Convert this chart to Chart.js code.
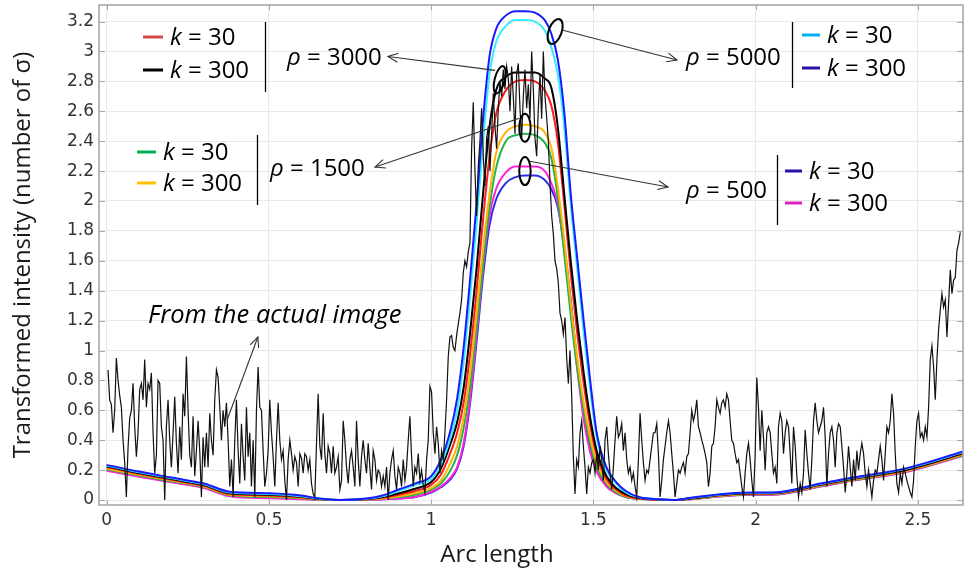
<!DOCTYPE html>
<html>
<head>
<meta charset="utf-8">
<script src="https://cdn.jsdelivr.net/npm/chart.js@4.4.1/dist/chart.umd.min.js"></script>
<style>
html,body{margin:0;padding:0;background:#fff;}
#wrap{position:relative;width:965px;height:573px;}
</style>
</head>
<body>
<div id="wrap"><canvas id="c" width="965" height="573"></canvas></div>
<script>
// Arc-length positions shared by the model curves
const arcGrid = [0, 0.1, 0.2, 0.3, 0.38, 0.5, 0.6, 0.65, 0.72, 0.8,
  0.85, 0.9, 0.95, 1.0, 1.03, 1.06, 1.08, 1.1, 1.12, 1.14,
  1.16, 1.18, 1.2, 1.23, 1.26, 1.29, 1.32, 1.35, 1.37, 1.39,
  1.41, 1.43, 1.45, 1.47, 1.49, 1.51, 1.54, 1.57, 1.6, 1.64,
  1.7, 1.75, 1.8, 1.9, 2.0, 2.05, 2.2, 2.3, 2.46, 2.64];

// Model curves, one list per (rho, k) pair
const rho5000k300 = [0.235, 0.19, 0.15, 0.11, 0.055, 0.045, 0.03, 0.012, 0.0, 0.01,
  0.03, 0.07, 0.11, 0.16, 0.27, 0.47, 0.68, 1.02, 1.48, 1.98,
  2.55, 2.97, 3.15, 3.24, 3.27, 3.27, 3.26, 3.21, 3.12, 2.95,
  2.6, 2.05, 1.62, 1.2, 0.8, 0.45, 0.22, 0.12, 0.06, 0.02,
  0.005, 0.0, 0.015, 0.04, 0.05, 0.05, 0.11, 0.15, 0.21, 0.325];
const rho5000k30 = [0.23, 0.185, 0.145, 0.105, 0.05, 0.04, 0.025, 0.01, 0.0, 0.008,
  0.025, 0.06, 0.1, 0.14, 0.24, 0.42, 0.6, 0.92, 1.36, 1.85,
  2.4, 2.85, 3.06, 3.17, 3.21, 3.21, 3.2, 3.14, 3.03, 2.85,
  2.5, 1.98, 1.55, 1.12, 0.74, 0.42, 0.2, 0.11, 0.05, 0.018,
  0.005, 0.0, 0.013, 0.038, 0.048, 0.048, 0.107, 0.147, 0.207, 0.32];
const rho3000k300 = [0.225, 0.18, 0.14, 0.1, 0.045, 0.035, 0.022, 0.008, 0.0, 0.006,
  0.02, 0.045, 0.075, 0.12, 0.21, 0.38, 0.52, 0.75, 1.12, 1.55,
  2.05, 2.5, 2.74, 2.83, 2.86, 2.86, 2.86, 2.82, 2.76, 2.5,
  2.05, 1.6, 1.2, 0.85, 0.55, 0.33, 0.16, 0.08, 0.04, 0.015,
  0.004, 0.0, 0.01, 0.035, 0.045, 0.045, 0.103, 0.143, 0.2, 0.313];
const rho3000k30 = [0.22, 0.175, 0.135, 0.095, 0.04, 0.03, 0.018, 0.006, 0.0, 0.005,
  0.015, 0.035, 0.06, 0.1, 0.17, 0.32, 0.45, 0.65, 0.98, 1.4,
  1.88, 2.3, 2.58, 2.74, 2.8, 2.81, 2.8, 2.74, 2.64, 2.4,
  1.98, 1.52, 1.12, 0.78, 0.5, 0.3, 0.14, 0.07, 0.03, 0.01,
  0.003, 0.0, 0.009, 0.033, 0.043, 0.043, 0.1, 0.14, 0.197, 0.31];
const rho1500k300 = [0.21, 0.168, 0.13, 0.09, 0.035, 0.025, 0.014, 0.005, 0.0, 0.004,
  0.01, 0.025, 0.045, 0.08, 0.13, 0.25, 0.36, 0.55, 0.85, 1.25,
  1.68, 2.05, 2.32, 2.46, 2.5, 2.51, 2.5, 2.46, 2.36, 2.1,
  1.74, 1.32, 0.95, 0.65, 0.42, 0.25, 0.12, 0.06, 0.025, 0.01,
  0.003, 0.0, 0.007, 0.03, 0.04, 0.04, 0.097, 0.136, 0.193, 0.305];
const rho1500k30 = [0.205, 0.163, 0.125, 0.087, 0.032, 0.02, 0.012, 0.004, 0.0, 0.003,
  0.01, 0.02, 0.035, 0.07, 0.11, 0.2, 0.3, 0.48, 0.76, 1.15,
  1.58, 1.96, 2.22, 2.4, 2.44, 2.45, 2.44, 2.39, 2.29, 2.03,
  1.65, 1.24, 0.88, 0.6, 0.38, 0.22, 0.11, 0.05, 0.02, 0.008,
  0.002, 0.0, 0.006, 0.028, 0.038, 0.038, 0.094, 0.133, 0.19, 0.3];
const rho500k300 = [0.195, 0.155, 0.118, 0.08, 0.025, 0.012, 0.005, 0.003, 0.0, 0.0,
  0.005, 0.01, 0.02, 0.055, 0.09, 0.15, 0.22, 0.38, 0.68, 1.1,
  1.55, 1.9, 2.08, 2.19, 2.23, 2.23, 2.23, 2.2, 2.12, 1.98,
  1.68, 1.3, 0.88, 0.54, 0.32, 0.19, 0.09, 0.045, 0.02, 0.008,
  0.003, 0.0, 0.005, 0.025, 0.035, 0.035, 0.09, 0.13, 0.185, 0.295];
const rho500k30 = [0.2, 0.16, 0.122, 0.084, 0.03, 0.016, 0.008, 0.003, 0.0, 0.0,
  0.005, 0.01, 0.02, 0.05, 0.085, 0.14, 0.21, 0.36, 0.65, 1.06,
  1.5, 1.84, 2.01, 2.12, 2.16, 2.17, 2.17, 2.14, 2.08, 1.96,
  1.7, 1.34, 0.92, 0.58, 0.35, 0.2, 0.1, 0.05, 0.02, 0.008,
  0.003, 0.0, 0.006, 0.027, 0.037, 0.037, 0.092, 0.132, 0.188, 0.3];

// Intensity profile sampled along the arc of the actual image
const imageStart = 0.0041;
const imageStep = 0.00514;
const imageIntensity = [
  0.87, 0.67, 0.64, 0.45, 0.60, 0.95, 0.80, 0.70, 0.62, 0.40,
  0.25, 0.02, 0.35, 0.55, 0.60, 0.78, 0.49, 0.29, 0.45, 0.74,
  0.78, 0.67, 0.94, 0.62, 0.78, 0.74, 0.85, 0.45, 0.18, 0.30,
  0.80, 0.78, 0.49, 0.40, 0.00, 0.49, 0.67, 0.40, 0.22, 0.45,
  0.69, 0.38, 0.18, 0.49, 0.27, 0.71, 0.56, 0.96, 0.60, 0.30,
  0.22, 0.56, 0.16, 0.33, 0.53, 0.33, 0.02, 0.42, 0.22, 0.45,
  0.22, 0.58, 0.40, 0.30, 0.67, 0.87, 0.82, 0.62, 0.40, 0.60,
  0.49, 0.65, 0.40, 0.09, 0.27, 0.02, 0.40, 0.67, 0.33, 0.11,
  0.51, 0.29, 0.13, 0.62, 0.29, 0.45, 0.09, 0.40, 0.02, 0.60,
  0.89, 0.62, 0.60, 0.33, 0.09, 0.18, 0.33, 0.67, 0.45, 0.29,
  0.09, 0.40, 0.65, 0.40, 0.27, 0.33, 0.13, 0.00, 0.27, 0.40,
  0.31, 0.20, 0.29, 0.25, 0.09, 0.31, 0.28, 0.18, 0.31, 0.29,
  0.20, 0.27, 0.11, 0.04, 0.02, 0.38, 0.71, 0.36, 0.27, 0.58,
  0.31, 0.18, 0.36, 0.31, 0.18, 0.36, 0.18, 0.22, 0.29, 0.07,
  0.13, 0.53, 0.40, 0.22, 0.11, 0.27, 0.33, 0.22, 0.09, 0.53,
  0.27, 0.09, 0.29, 0.40, 0.27, 0.18, 0.38, 0.22, 0.07, 0.33,
  0.27, 0.13, 0.20, 0.18, 0.09, 0.16, 0.09, 0.22, 0.00, 0.18,
  0.27, 0.33, 0.16, 0.07, 0.22, 0.18, 0.09, 0.27, 0.13, 0.22,
  0.40, 0.56, 0.29, 0.09, 0.22, 0.18, 0.31, 0.13, 0.20, 0.10,
  0.05, 0.27, 0.40, 0.76, 0.72, 0.45, 0.31, 0.49, 0.38, 0.18,
  0.33, 0.27, 0.45, 0.67, 0.96, 1.09, 1.10, 1.02, 1.00, 1.10,
  1.18, 1.25, 1.34, 1.52, 1.60, 1.56, 1.66, 1.72, 2.35, 2.66,
  2.20, 1.90, 2.23, 2.40, 2.62, 2.30, 2.10, 2.42, 2.50, 2.20,
  2.45, 2.72, 2.50, 2.35, 2.62, 2.80, 2.70, 2.88, 2.75, 2.90,
  2.82, 2.60, 2.90, 2.70, 2.45, 2.85, 2.92, 2.62, 2.42, 2.70,
  2.88, 2.62, 2.78, 2.55, 3.00, 2.75, 2.42, 2.30, 2.62, 2.85,
  2.55, 3.00, 2.70, 2.56, 2.40, 2.12, 1.90, 1.78, 1.60, 1.55,
  1.45, 1.25, 1.20, 1.11, 1.22, 0.95, 0.78, 1.00, 0.70, 0.29,
  0.04, 0.27, 0.22, 0.45, 0.53, 0.36, 0.22, 0.04, 0.22, 0.18,
  0.25, 0.27, 0.18, 0.31, 0.20, 0.36, 0.27, 0.13, 0.40, 0.49,
  0.31, 0.18, 0.07, 0.22, 0.40, 0.56, 0.42, 0.45, 0.51, 0.33,
  0.45, 0.27, 0.18, 0.22, 0.13, 0.18, 0.09, 0.02, 0.27, 0.58,
  0.40, 0.25, 0.13, 0.20, 0.18, 0.27, 0.36, 0.45, 0.45, 0.51,
  0.31, 0.02, 0.13, 0.27, 0.36, 0.45, 0.53, 0.45, 0.31, 0.18,
  0.02, 0.11, 0.20, 0.18, 0.22, 0.25, 0.18, 0.29, 0.31, 0.45,
  0.60, 0.53, 0.58, 0.67, 0.49, 0.45, 0.40, 0.36, 0.31, 0.25,
  0.09, 0.18, 0.36, 0.38, 0.49, 0.67, 0.62, 0.58, 0.65, 0.67,
  0.62, 0.71, 0.67, 0.53, 0.40, 0.38, 0.31, 0.25, 0.27, 0.18,
  0.09, 0.02, 0.18, 0.31, 0.38, 0.27, 0.13, 0.02, 0.30, 0.82,
  0.62, 0.33, 0.60, 0.42, 0.20, 0.45, 0.49, 0.45, 0.31, 0.18,
  0.22, 0.11, 0.49, 0.58, 0.53, 0.31, 0.45, 0.53, 0.49, 0.31,
  0.11, 0.49, 0.36, 0.16, 0.02, 0.11, 0.05, 0.18, 0.47, 0.31,
  0.18, 0.07, 0.27, 0.53, 0.65, 0.53, 0.45, 0.49, 0.53, 0.62,
  0.42, 0.09, 0.31, 0.45, 0.49, 0.40, 0.22, 0.45, 0.51, 0.49,
  0.36, 0.22, 0.05, 0.18, 0.36, 0.22, 0.09, 0.27, 0.13, 0.33,
  0.20, 0.31, 0.38, 0.31, 0.18, 0.09, 0.20, 0.11, 0.02, 0.13,
  0.20, 0.18, 0.27, 0.36, 0.27, 0.13, 0.31, 0.49, 0.45, 0.53,
  0.71, 0.58, 0.31, 0.11, 0.05, 0.18, 0.11, 0.22, 0.18, 0.13,
  0.09, 0.05, 0.02, 0.13, 0.36, 0.53, 0.58, 0.42, 0.45, 0.40,
  0.49, 0.42, 0.62, 0.94, 1.03, 0.89, 0.67, 0.94, 1.14, 1.27,
  1.38, 1.29, 1.34, 1.09, 1.32, 1.54, 1.38, 1.47, 1.49, 1.67,
  1.72, 1.79
];

// Axis ticks
const xTicks = [0, 0.5, 1, 1.5, 2, 2.5];
const xTickLabels = ['0', '0.5', '1', '1.5', '2', '2.5'];
const yTicks = [0, 0.2, 0.4, 0.6, 0.8, 1, 1.2, 1.4, 1.6, 1.8, 2, 2.2, 2.4, 2.6, 2.8, 3, 3.2];
const yTickLabels = ['0', '0.2', '0.4', '0.6', '0.8', '1', '1.2', '1.4', '1.6', '1.8',
  '2', '2.2', '2.4', '2.6', '2.8', '3', '3.2'];

const TEXT_FONT = "'Open Sans', 'DejaVu Sans', sans-serif";

function curve(label, ys, color) {
  return {
    label,
    data: arcGrid.map((x, i) => ({ x, y: ys[i] })),
    borderColor: color,
    borderWidth: 2,
    pointRadius: 0,
    fill: false,
    cubicInterpolationMode: 'monotone'
  };
}

const datasets = [
  {
    label: 'From the actual image',
    data: imageIntensity.map((y, i) => ({ x: imageStart + i * imageStep, y })),
    borderColor: '#111111',
    borderWidth: 1.2,
    pointRadius: 0,
    fill: false,
    tension: 0
  },
  curve('ρ = 5000, k = 300', rho5000k300, '#1a1aff'),
  curve('ρ = 5000, k = 30', rho5000k30, '#38ecff'),
  curve('ρ = 3000, k = 300', rho3000k300, '#000000'),
  curve('ρ = 3000, k = 30', rho3000k30, '#ff1a1a'),
  curve('ρ = 1500, k = 300', rho1500k300, '#ffb400'),
  curve('ρ = 1500, k = 30', rho1500k30, '#22b24a'),
  curve('ρ = 500, k = 300', rho500k300, '#ff22dd'),
  curve('ρ = 500, k = 30', rho500k30, '#2b2bea')
];

// Draws a run of text pieces, each either italic or upright
function richText(ctx, parts, x, baseline, size = 24) {
  let cx = x;
  for (const [txt, italic] of parts) {
    ctx.font = (italic ? 'italic ' : '') + size + 'px ' + TEXT_FONT;
    ctx.fillText(txt, cx, baseline);
    cx += ctx.measureText(txt).width;
  }
}

function arrow(ctx, x1, y1, x2, y2) {
  ctx.beginPath();
  ctx.moveTo(x1, y1);
  ctx.lineTo(x2, y2);
  ctx.stroke();
  const ang = Math.atan2(y2 - y1, x2 - x1);
  const L = 11, w = 0.42;
  ctx.beginPath();
  ctx.moveTo(x2 - L * Math.cos(ang - w), y2 - L * Math.sin(ang - w));
  ctx.lineTo(x2, y2);
  ctx.lineTo(x2 - L * Math.cos(ang + w), y2 - L * Math.sin(ang + w));
  ctx.stroke();
}

function legendRow(ctx, color, x1, x2, y, value) {
  ctx.strokeStyle = color;
  ctx.lineWidth = 3;
  ctx.beginPath();
  ctx.moveTo(x1, y);
  ctx.lineTo(x2, y);
  ctx.stroke();
  richText(ctx, [['k', true], [' = ' + value, false]], x2 + 7, y + 8);
}

function bar(ctx, x, y1, y2) {
  ctx.strokeStyle = '#000';
  ctx.lineWidth = 1.3;
  ctx.beginPath();
  ctx.moveTo(x, y1);
  ctx.lineTo(x, y2);
  ctx.stroke();
}

// Keep the plot box exactly where the axes put it
function noLabelPadding(s) {
  s.paddingTop = 0;
  s.paddingBottom = 0;
  s.paddingLeft = 0;
  s.paddingRight = 0;
}

const annotations = {
  id: 'annotations',
  beforeDatasetsDraw(chart) {
    const { ctx, chartArea: a, scales: { x, y } } = chart;
    ctx.save();
    ctx.strokeStyle = '#a8a8a8';
    ctx.lineWidth = 1;
    for (const v of xTicks) {
      const X = Math.round(x.getPixelForValue(v)) + 0.5;
      ctx.beginPath();
      ctx.moveTo(X, a.bottom); ctx.lineTo(X, a.bottom - 5);
      ctx.moveTo(X, a.top); ctx.lineTo(X, a.top + 5);
      ctx.stroke();
    }
    for (const v of yTicks) {
      const Y = Math.round(y.getPixelForValue(v)) + 0.5;
      ctx.beginPath();
      ctx.moveTo(a.left, Y); ctx.lineTo(a.left + 6, Y);
      ctx.moveTo(a.right, Y); ctx.lineTo(a.right - 6, Y);
      ctx.stroke();
    }
    ctx.restore();
  },
  afterDatasetsDraw(chart) {
    const { ctx, chartArea: a, scales: { x, y } } = chart;
    const P = (vx, vy) => [x.getPixelForValue(vx), y.getPixelForValue(vy)];
    ctx.save();

    // plot frame
    ctx.strokeStyle = '#a8a8a8';
    ctx.lineWidth = 1.6;
    ctx.strokeRect(a.left, a.top, a.right - a.left, a.bottom - a.top);

    // x-axis title
    ctx.fillStyle = '#1a1a1a';
    ctx.textBaseline = 'alphabetic';
    ctx.textAlign = 'center';
    ctx.font = '24px ' + TEXT_FONT;
    ctx.fillText('Arc length', 497, 562);

    ctx.fillStyle = '#000';
    ctx.textAlign = 'left';

    // rho = 3000 group
    legendRow(ctx, '#d04848', 143, 163, 37, '30');
    legendRow(ctx, '#000000', 143, 163, 70, '300');
    bar(ctx, 265.5, 22, 92);
    richText(ctx, [['ρ', true], [' = 3000', false]], 287, 65);

    // rho = 1500 group
    legendRow(ctx, '#00b050', 137, 156, 152, '30');
    legendRow(ctx, '#ffc000', 137, 156, 183, '300');
    bar(ctx, 257.5, 135, 205);
    richText(ctx, [['ρ', true], [' = 1500', false]], 270, 176);

    // rho = 5000 group
    richText(ctx, [['ρ', true], [' = 5000', false]], 686, 65);
    bar(ctx, 792.5, 22, 88);
    legendRow(ctx, '#00b0f0', 802, 820, 35, '30');
    legendRow(ctx, '#2a10a8', 802, 820, 68, '300');

    // rho = 500 group
    richText(ctx, [['ρ', true], [' = 500', false]], 686, 198);
    bar(ctx, 777.5, 155, 225);
    legendRow(ctx, '#2a10a8', 785, 802, 171, '30');
    legendRow(ctx, '#e020c0', 785, 802, 203, '300');

    // caption for the measured profile
    ctx.fillStyle = '#000';
    ctx.font = 'italic 25.5px ' + TEXT_FONT;
    ctx.fillText('From the actual image', 148, 323);

    // ellipses marking the curve pairs
    ctx.strokeStyle = '#000';
    ctx.lineWidth = 2;
    const rings = [
      [1.211, 2.811, 5, 14, 0.25],
      [1.382, 3.134, 6.5, 13, 0.35],
      [1.289, 2.49, 5.7, 14, 0],
      [1.289, 2.20, 5.7, 14, 0]
    ];
    for (const [vx, vy, rx, ry, rot] of rings) {
      const [cx, cy] = P(vx, vy);
      ctx.beginPath();
      ctx.ellipse(cx, cy, rx, ry, rot, 0, Math.PI * 2);
      ctx.stroke();
    }

    // leader arrows
    ctx.strokeStyle = '#333';
    ctx.lineWidth = 1.1;
    let t;
    t = P(1.197, 2.874); arrow(ctx, t[0], t[1], 388, 56.5);
    t = P(1.406, 3.142); arrow(ctx, t[0], t[1], 677, 60);
    t = P(1.272, 2.553); arrow(ctx, t[0], t[1], 375, 167);
    t = P(1.304, 2.266); arrow(ctx, t[0], t[1], 668, 187);
    const t1 = P(0.371, 0.535), t2 = P(0.466, 1.09);
    arrow(ctx, t1[0], t1[1], t2[0], t2[1]);

    ctx.restore();
  }
};

new Chart(document.getElementById('c'), {
  type: 'line',
  data: { datasets },
  options: {
    responsive: false,
    animation: false,
    events: [],
    layout: { padding: { top: 5, right: 2, left: 0, bottom: 0 } },
    plugins: { legend: { display: false }, tooltip: { enabled: false } },
    scales: {
      x: {
        type: 'linear',
        min: -0.0237,
        max: 2.639,
        afterBuildTicks: s => { s.ticks = xTicks.map(v => ({ value: v })); },
        afterFit: s => { s.height = 68; noLabelPadding(s); },
        ticks: {
          callback: (v, i) => xTickLabels[i],
          font: { family: 'DejaVu Sans', size: 17 },
          color: '#333',
          padding: 5,
          maxRotation: 0,
          autoSkip: false
        },
        grid: { color: '#e8e8e8', lineWidth: 1, drawTicks: false },
        border: { display: false },
        title: { display: false }
      },
      y: {
        type: 'linear',
        min: -0.0334,
        max: 3.311,
        afterBuildTicks: s => { s.ticks = yTicks.map(v => ({ value: v })); },
        afterFit: s => { s.width = 99; noLabelPadding(s); },
        ticks: {
          callback: (v, i) => yTickLabels[i],
          font: { family: 'DejaVu Sans', size: 17 },
          color: '#333',
          padding: 5,
          autoSkip: false
        },
        grid: { color: '#e8e8e8', lineWidth: 1, drawTicks: false },
        border: { display: false },
        title: {
          display: true,
          text: 'Transformed intensity (number of σ)',
          font: { family: TEXT_FONT, size: 24 },
          color: '#1a1a1a',
          padding: { top: 9, bottom: 0 }
        }
      }
    }
  },
  plugins: [annotations]
});
</script>
</body>
</html>
